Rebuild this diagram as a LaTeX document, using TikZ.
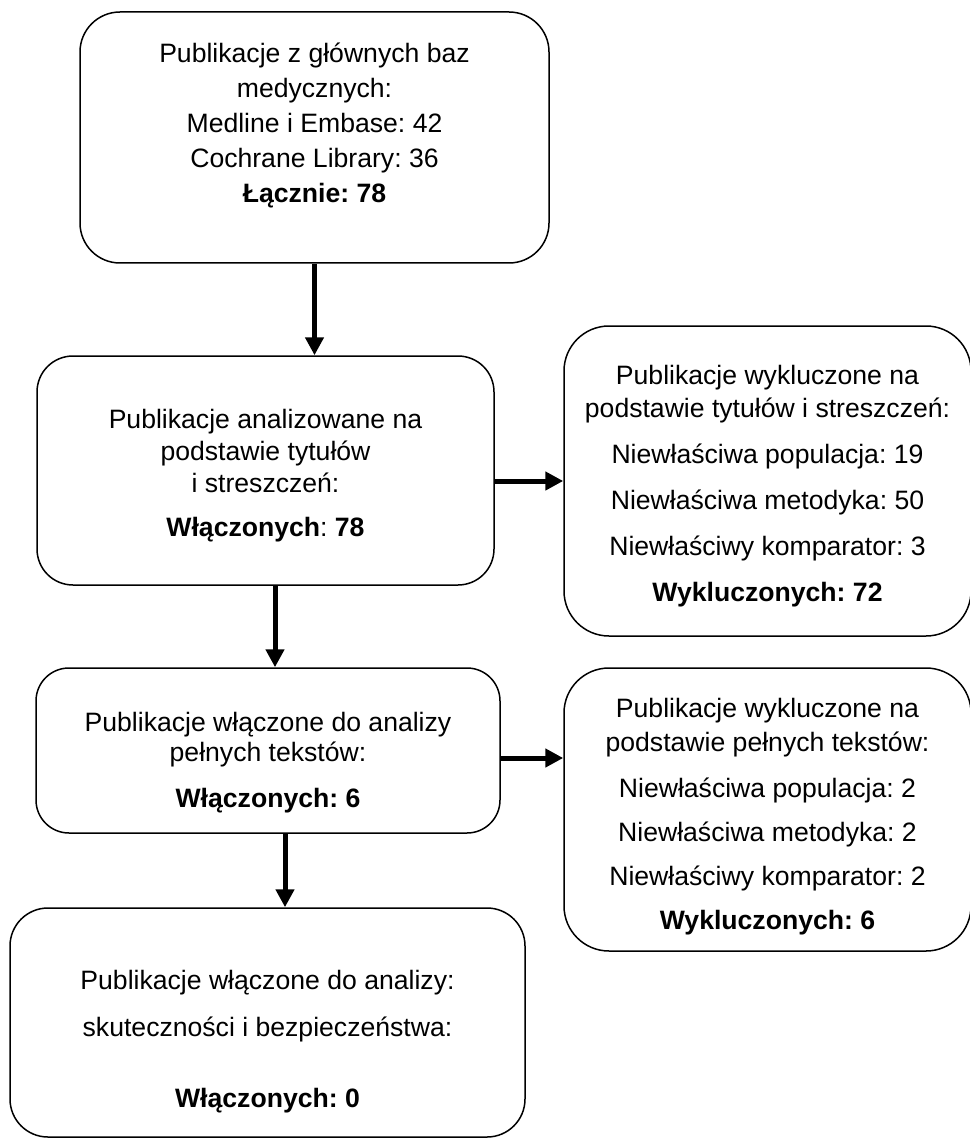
\documentclass[tikz,border=0pt]{standalone}
\usepackage{fontspec}
\setmainfont{Liberation Sans}
\usetikzlibrary{arrows.meta}
\frenchspacing
\begin{document}
\begin{tikzpicture}[x=1pt,y=-1pt,
 box/.style={draw=black, line width=1.5pt, rounded corners=#1, inner sep=0pt, rectangle},
 box/.default=38pt,
 txt/.style={anchor=north, align=center, inner sep=0pt},
 arr/.style={line width=5pt, -{Triangle[length=18pt,width=18pt]}}]
\path[use as bounding box] (0,0) rectangle (969,1139);

% boxes
\node[box=40pt, minimum width=469pt, minimum height=251pt] (b1) at (314.5,137.5) {};
\node[box=36pt, minimum width=457pt, minimum height=229pt] (b2) at (265.5,470.5) {};
\node[box=45pt, minimum width=407pt, minimum height=310pt] (r1) at (767.5,481) {};
\node[box=33pt, minimum width=464pt, minimum height=165pt] (b3) at (268,750.5) {};
\node[box=45pt, minimum width=407pt, minimum height=283pt] (r2) at (767.5,809.5) {};
\node[box=38pt, minimum width=515pt, minimum height=229pt] (b4) at (267.5,1022.5) {};

% texts
\node[txt, font=\fontsize{26.6}{35}\selectfont] (t1) at (314.5,43)
 {Publikacje z głównych baz\\ medycznych:\\ Medline i Embase: 42\\ Cochrane Library: 36\\ \textbf{Łącznie: 78}};
\node[txt, font=\fontsize{26.6}{32}\selectfont] (t2) at (265.5,409)
 {Publikacje analizowane na\\ podstawie tytułów\\ i streszczeń:\\[12pt] \textbf{Włączonych}: \textbf{78}};
\node[txt, font=\fontsize{26.6}{33}\selectfont] (t3) at (767.5,365)
 {Publikacje wykluczone na\\ podstawie tytułów i streszczeń:\\[13pt] Niewłaściwa populacja: 19\\[13pt] Niewłaściwa metodyka: 50\\[13pt] Niewłaściwy komparator: 3\\[13pt] \textbf{Wykluczonych: 72}};
\node[txt, font=\fontsize{26.6}{30}\selectfont] (t4) at (268,712)
 {Publikacje włączone do analizy\\ pełnych tekstów:\\[16pt] \textbf{Włączonych: 6}};
\node[txt, font=\fontsize{26.6}{34}\selectfont] (t5) at (767.5,698)
 {Publikacje wykluczone na\\ podstawie pełnych tekstów:\\[12pt] Niewłaściwa populacja: 2\\[10pt] Niewłaściwa metodyka: 2\\[10pt] Niewłaściwy komparator: 2\\[10pt] \textbf{Wykluczonych: 6}};
\node[txt, font=\fontsize{26.6}{47}\selectfont] (t6) at (267.5,970)
 {Publikacje włączone do analizy:\\ skuteczności i bezpieczeństwa:\\[24pt] \textbf{Włączonych: 0}};

% connectors
\draw[arr] (b1.south) -- (b1.south |- b2.north);
\draw[arr] (b2.east |- r1.west) -- (r1.west);
\draw[arr] ([xshift=9.5pt]b2.south) -- ([xshift=9.5pt]b2.south |- b3.north);
\draw[arr] ([yshift=-7.5pt]b3.east) -- ([yshift=-7.5pt]b3.east -| r2.west);
\draw[arr] ([xshift=17pt]b3.south) -- ([xshift=17pt]b3.south |- b4.north);
\end{tikzpicture}
\end{document}
